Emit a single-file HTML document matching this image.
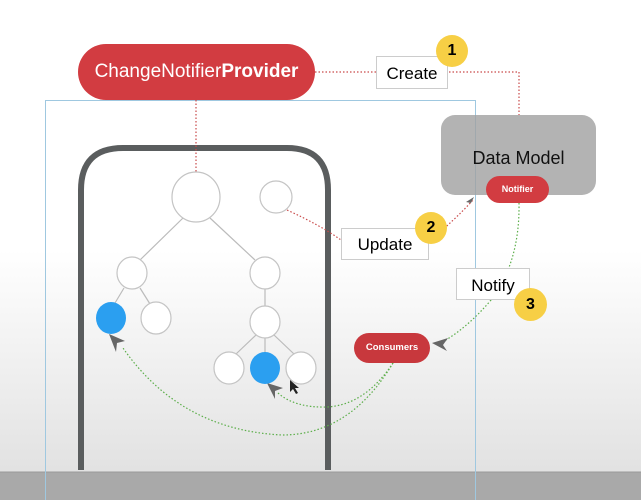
<!DOCTYPE html>
<html><head><style>
html,body{margin:0;padding:0}
body{width:641px;height:500px;overflow:hidden;position:relative;font-family:"Liberation Sans",sans-serif;background:linear-gradient(#fff 0,#fff 250px,#e2e2e2 470px);}
</style></head><body>
<svg width="641" height="500" style="position:absolute;left:0;top:0">
<rect x="0" y="472" width="641" height="28" fill="#a9a9a9"/>
<line x1="0" y1="472" x2="641" y2="472" fill="none" stroke="#999"/>
<path d="M81,470 V190 Q81,148 123,148 H287 Q328,148 328,190 V470" fill="none" stroke="#5a5d5e" stroke-width="6"/>
<rect x="45.5" y="100.5" width="430" height="420" fill="none" stroke="#9fc8e0" stroke-width="1"/>
<g stroke="#c94a4a" stroke-width="1.2" stroke-dasharray="1.5,2" fill="none">
<line x1="315" y1="72" x2="376" y2="72"/>
<polyline points="449,72 519,72 519,115"/>
<line x1="196" y1="100" x2="196" y2="173"/>
<path d="M287,210 Q320,225 341,240"/>
<path d="M428,242 Q455,220 473,200"/>
</g>
<g stroke="#5cae4a" stroke-width="1.2" stroke-dasharray="1.5,2" fill="none">
<path d="M519,203 Q520,262 491,300"/>
<path d="M491,300 Q470,325 446,340"/>
<path d="M393,363 Q365,405 327,407 Q295,408 278,393"/>
<path d="M393,363 Q350,435 282,435 Q180,430 123,348"/>
</g>
<g fill="#666">
<path d="M432,343 l16,-5 l-5,7 l4,6z"/>
<path d="M267,383 l16,5 l-8,3 l0,8z"/>
<path d="M109,334 l16,7 l-8,2 l-1,9z"/>
<path d="M474,197 l-3,6 l-5,-1z"/>
</g>
<g stroke="#bbb" stroke-width="1.2">
<line x1="183" y1="218" x2="140" y2="260"/><line x1="210" y1="218" x2="255" y2="260"/>
<line x1="124" y1="288" x2="115" y2="303"/><line x1="140" y1="288" x2="150" y2="304"/>
<line x1="265" y1="288" x2="265" y2="307"/>
<line x1="256" y1="335" x2="236" y2="354"/><line x1="265" y1="337" x2="265" y2="353"/><line x1="274" y1="335" x2="294" y2="354"/>
</g>
<g fill="#fff" stroke="#c4c4c4" stroke-width="1.2">
<ellipse cx="196" cy="197" rx="24" ry="25"/>
<ellipse cx="276" cy="197" rx="16" ry="16"/>
<ellipse cx="132" cy="273" rx="15" ry="16"/>
<ellipse cx="265" cy="273" rx="15" ry="16"/>
<ellipse cx="156" cy="318" rx="15" ry="16"/>
<ellipse cx="265" cy="322" rx="15" ry="16"/>
<ellipse cx="229" cy="368" rx="15" ry="16"/>
<ellipse cx="301" cy="368" rx="15" ry="16"/>
</g>
<ellipse cx="111" cy="318" rx="15" ry="16" fill="#2b9ff0"/>
<ellipse cx="265" cy="368" rx="15" ry="16" fill="#2b9ff0"/>
<path d="M290,380 v12 l3,-3 l3,5 l2,-1 l-3,-5 h4z" fill="#222"/>
</svg>
<div style="position:absolute;left:78px;top:44px;width:237px;height:56px;border-radius:28px;background:#d23c41;color:#fff;font-size:19px;line-height:56px;text-align:center">ChangeNotifier<b>Provider</b></div>
<div style="position:absolute;left:441px;top:115px;width:155px;height:80px;border-radius:14px;background:rgba(160,160,160,0.8);color:#111;font-size:18px;text-align:center;line-height:86px">Data Model</div>
<div style="position:absolute;left:486px;top:176px;width:63px;height:27px;border-radius:14px;background:#d23c41;color:#fff;font-size:9px;font-weight:bold;text-align:center;line-height:27px">Notifier</div>
<div style="position:absolute;left:354px;top:333px;width:76px;height:30px;border-radius:15px;background:#c8383d;color:#fff;font-size:9.5px;font-weight:bold;text-align:center;line-height:30px">Consumers</div>
<div style="position:absolute;left:376px;top:56px;width:72px;height:33px;border:1px solid #ccc;background:#fff;font-size:17px;text-align:center;line-height:33px;box-sizing:border-box">Create</div>
<div style="position:absolute;left:341px;top:228px;width:88px;height:32px;border:1px solid #ccc;background:#fff;font-size:17px;text-align:center;line-height:32px;box-sizing:border-box">Update</div>
<div style="position:absolute;left:456px;top:268px;width:74px;height:32px;border:1px solid #ccc;background:#fff;font-size:17px;text-align:center;line-height:34px;box-sizing:border-box">Notify</div>
<div style="position:absolute;left:436px;top:35px;width:32px;height:32px;border-radius:50%;background:#f7cf45;font-size:16px;font-weight:bold;text-align:center;line-height:32px">1</div>
<div style="position:absolute;left:415px;top:212px;width:32px;height:32px;border-radius:50%;background:#f7cf45;font-size:16px;font-weight:bold;text-align:center;line-height:32px">2</div>
<div style="position:absolute;left:514px;top:288px;width:33px;height:33px;border-radius:50%;background:#f7cf45;font-size:16px;font-weight:bold;text-align:center;line-height:33px">3</div>
</body></html>
